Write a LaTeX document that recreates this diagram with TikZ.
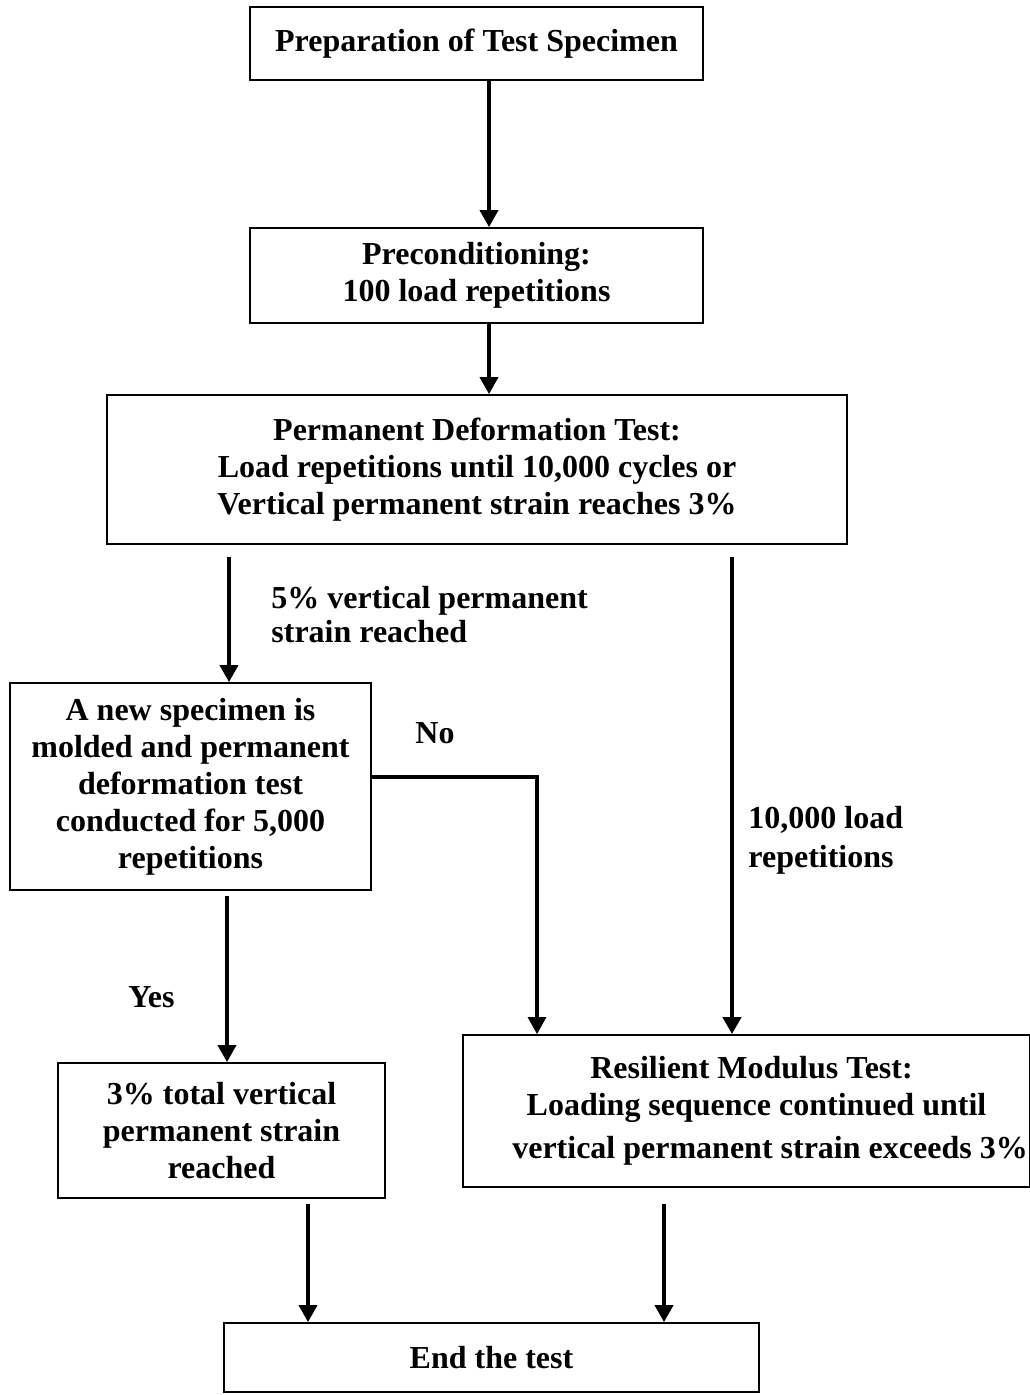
\documentclass[tikz,border=0pt]{standalone}
\usepackage{fontspec}
\setmainfont{Liberation Serif}
\usetikzlibrary{arrows.meta}
\begin{document}
\begin{tikzpicture}[x=0.5pt,y=-0.5pt,
  txt/.style={font=\fontsize{16pt}{18.5pt}\selectfont\bfseries},
  box/.style={txt,draw,line width=0.9pt,align=center,inner sep=1pt},
  lbl/.style={txt,align=left,inner sep=0pt,anchor=base west},
  arr/.style={line width=1.9pt,-{Triangle[length=8.5pt,width=9pt]}}]
\useasboundingbox (0,0) rectangle (1029,1395);
% boxes
\node[box,minimum width=226.5pt,minimum height=36.5pt] (b1) at (476.5,43.5) {Preparation of Test Specimen};
\node[box,minimum width=226.5pt,minimum height=47.5pt] (b2) at (476.5,275.5) {Preconditioning:\\100 load repetitions};
\node[box,minimum width=370pt,minimum height=74.5pt] (b3) at (477,469.5) {Permanent Deformation Test:\\Load repetitions until 10,000 cycles or\\Vertical permanent strain reaches 3\%};
\node[box,minimum width=180.5pt,minimum height=103.5pt] (b4) at (190.5,786.5) {A new specimen is\\molded and permanent\\deformation test\\conducted for 5,000\\repetitions};
\node[box,minimum width=163.5pt,minimum height=67.5pt] (b5) at (221.5,1130.5) {3\% total vertical\\permanent strain\\reached};
\node[box,minimum width=281.5pt,minimum height=76pt] (b6) at (746.5,1111) {\hspace*{5pt}Resilient Modulus Test:\\\hspace*{10pt}Loading sequence continued until\\[3pt]\hspace*{23.5pt}vertical permanent strain exceeds 3\%};
\node[box,minimum width=267.5pt,minimum height=34.5pt] (b7) at (491.5,1357.5) {End the test};
% labels (base anchor = baseline of last line)
\node[lbl,font=\fontsize{16pt}{17pt}\selectfont\bfseries] (l1) at (271,642) {5\% vertical permanent\\strain reached};
\node[lbl] (l2) at (415,743) {No};
\node[lbl,font=\fontsize{16pt}{19.5pt}\selectfont\bfseries] (l3) at (748,867) {10,000 load\\repetitions};
\node[lbl] (l4) at (128,1007) {Yes};
% arrow positions
\coordinate (xc) at (489,0);
\coordinate (xl) at (229,0);
\coordinate (xr) at (732,0);
\coordinate (xy) at (227,0);
\coordinate (xno) at (537,0);
\coordinate (yno) at (0,777);
\coordinate (xe1) at (308,0);
\coordinate (xe2) at (664,0);
% connectors
\draw[arr] (b1.south -| xc) -- (b2.north -| xc);
\draw[arr] (b2.south -| xc) -- (b3.north -| xc);
\draw[arr,shorten <=6pt] (b3.south -| xl) -- (b4.north -| xl);
\draw[arr,shorten <=6pt,line width=2.2pt] (b3.south -| xr) -- (b6.north -| xr);
\draw[arr,line width=1.6pt] (b4.east |- yno) -| (b6.north -| xno);
\draw[arr,shorten <=2.5pt] (b4.south -| xy) -- (b5.north -| xy);
\draw[arr,shorten <=2.5pt] (b5.south -| xe1) -- (b7.north -| xe1);
\draw[arr,shorten <=8pt] (b6.south -| xe2) -- (b7.north -| xe2);
\end{tikzpicture}
\end{document}
